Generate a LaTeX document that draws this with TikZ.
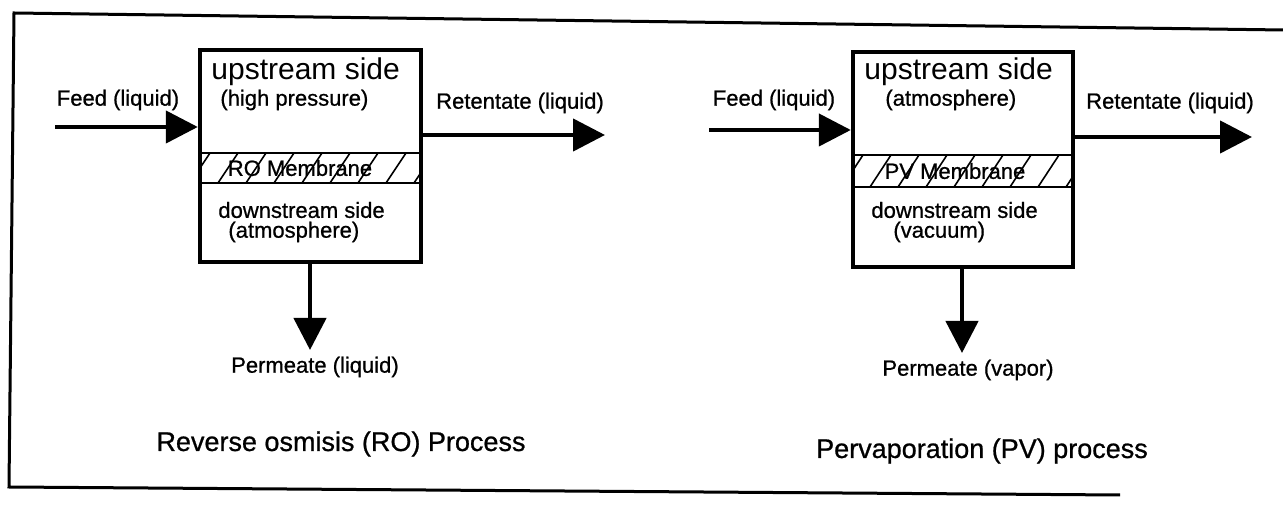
\documentclass[tikz,border=0pt]{standalone}
\usepackage{fontspec}
\setmainfont{Liberation Sans}[BoldFont={Liberation Sans}, BoldFeatures={FakeBold=0.8}]
\usetikzlibrary{arrows.meta}
\begin{document}
\begin{tikzpicture}[x=0.5pt,y=-0.5pt,
  frame/.style={line width=1.5pt},
  membox/.style={draw, line width=2.2pt, minimum width=110.5pt, minimum height=106pt, inner sep=0pt},
  memband/.style={draw, line width=1.4pt, minimum width=110.5pt, minimum height=15pt, inner sep=0pt},
  flow/.style={line width=2.2pt, -{Triangle[length=16pt,width=16pt]}},
  lbl/.style={font=\fontsize{11}{13}\selectfont\bfseries, inner sep=0pt},
  inbox/.style={font=\fontsize{11}{13}\selectfont\bfseries, inner sep=0pt, anchor=west},
  big/.style={font=\fontsize{15}{17}\selectfont, inner sep=0pt, anchor=west},
  ttl/.style={font=\fontsize{13.5}{16}\selectfont\bfseries, inner sep=0pt},
  hatch/.style={line width=0.8pt}]
\useasboundingbox (0,0) rectangle (1283,506);
% outer frame
\coordinate (fTL) at (14,13);
\coordinate (fTR) at (1283,30);
\coordinate (fBL) at (9,487);
\coordinate (fBR) at (1120,495);
\draw[frame] (fTR) -- (fTL) -- (fBL) -- (fBR);

% ---------- Left panel: RO ----------
\node[membox] (boxL) at (310.5,156) {};
\node[memband] (memL) at (310.5,168) {};
\begin{scope}
  \clip (memL.south west) rectangle (memL.north east);
  \foreach \i in {0,...,9} \draw[hatch] (190+\i*28,183) -- ++(20,-30);
\end{scope}
\node[lbl] (memLt) at (300,168) {RO Membrane};
\node[big] (upL) at (211,72) {upstream side};
\node[inbox] (hpL) at (220,100) {(high pressure)};
\node[inbox] (dnL) at (218,210) {downstream side};
\node[inbox] (atL) at (228,232) {(atmosphere)};

\coordinate (feedL) at (55,127);
\coordinate (retL) at (605,135);
\coordinate (permL) at (310,350);
\draw[flow] (feedL) -- (boxL.west |- feedL);
\draw[flow] (boxL.east |- retL) -- (retL);
\draw[flow] (boxL.south -| permL) -- (permL);
\node[lbl] (feedLt) at (118,100) {Feed (liquid)};
\node[lbl] (retLt) at (520,103) {Retentate (liquid)};
\node[lbl] (permLt) at (315,367) {Permeate (liquid)};
\node[ttl] (titleL) at (341,444) {Reverse osmisis (RO) Process};

% ---------- Right panel: PV ----------
\node[membox, minimum width=110pt, minimum height=107.5pt] (boxR) at (963,159.5) {};
\node[memband, minimum width=110pt, minimum height=16pt] (memR) at (963,171) {};
\begin{scope}
  \clip (memR.south west) rectangle (memR.north east);
  \foreach \i in {0,...,9} \draw[hatch] (842+\i*28,187) -- ++(21,-32);
\end{scope}
\node[lbl] (memRt) at (955,171) {PV Membrane};
\node[big] (upR) at (864,72) {upstream side};
\node[inbox] (atR) at (885,100) {(atmosphere)};
\node[inbox] (dnR) at (871,210) {downstream side};
\node[inbox] (vaR) at (893,232) {(vacuum)};

\coordinate (feedR) at (709,130);
\coordinate (retR) at (1252,137);
\coordinate (permR) at (962,353);
\draw[flow] (feedR) -- (boxR.west |- feedR);
\draw[flow] (boxR.east |- retR) -- (retR);
\draw[flow] (boxR.south -| permR) -- (permR);
\node[lbl] (feedRt) at (774,100) {Feed (liquid)};
\node[lbl] (retRt) at (1170,103) {Retentate (liquid)};
\node[lbl] (permRt) at (968,370) {Permeate (vapor)};
\node[ttl] (titleR) at (982,451) {Pervaporation (PV) process};
\end{tikzpicture}
\end{document}
